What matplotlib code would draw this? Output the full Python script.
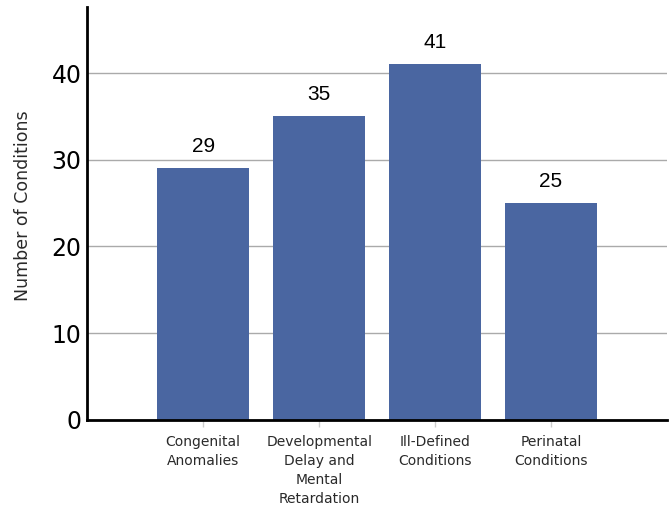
import matplotlib
matplotlib.use('Agg')
import matplotlib.pyplot as plt

# ── Data ──
categories = ['Congenital\nAnomalies',
              'Developmental\nDelay and\nMental\nRetardation',
              'Ill-Defined\nConditions',
              'Perinatal\nConditions']
counts = [29, 35, 41, 25]

BAR_COLOR = '#4a66a1'

fig = plt.figure(figsize=(6.71, 5.12), dpi=100)
ax = fig.add_axes([0.130, 0.180, 0.864, 0.806])

x = list(range(len(categories)))
ax.bar(x, counts, width=0.79, color=BAR_COLOR, zorder=3)

# value labels above bars
for xi, v in zip(x, counts):
    ax.annotate(str(v), (xi, v), xytext=(0, 9), textcoords='offset points',
                ha='center', va='bottom', fontsize=15, family='Liberation Sans')

ax.set_xlim(-1, 4)
ax.set_ylim(0, 47.6)
ax.set_yticks([0, 10, 20, 30, 40])
ax.yaxis.grid(True, color='#aaaaaa', linewidth=1.0, zorder=0)

ax.set_xticks(x)
ax.set_xticklabels(categories, fontsize=10, color='#2a2a2a', linespacing=1.45)
ax.tick_params(axis='x', length=5, width=1, color='#cccccc', pad=6)
ax.tick_params(axis='y', length=0, labelsize=17, pad=4)

for s in ['top', 'right']:
    ax.spines[s].set_visible(False)
for s in ['left', 'bottom']:
    ax.spines[s].set_linewidth(2)
    ax.spines[s].set_color('black')
ax.spines['bottom'].set_zorder(4)

ax.set_ylabel('Number of Conditions', fontsize=12.5, color='#2a2a2a')
ax.yaxis.set_label_coords(-0.095, 0.52)

plt.savefig('out.png', dpi=100)
plt.close()
